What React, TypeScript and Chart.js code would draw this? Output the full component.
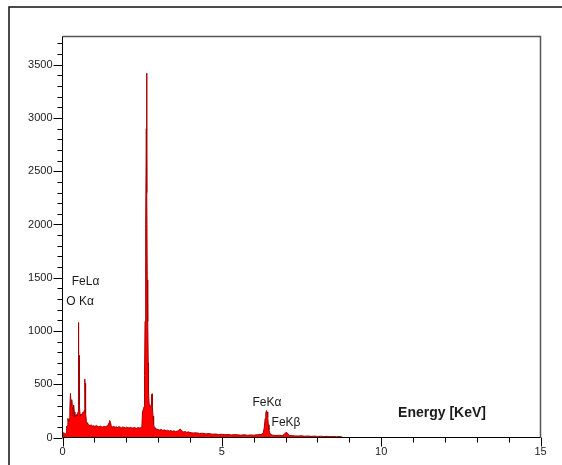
import React, { useEffect, useRef } from "react";
import { Chart, registerables } from "chart.js";

Chart.register(...registerables);

// ---- Spectrum data (energy in keV, counts) ----
const energyLow = [0.0, 0.03, 0.06, 0.09, 0.12, 0.13, 0.15, 0.17, 0.19, 0.21, 0.23, 0.25, 0.27, 0.29, 0.31, 0.33, 0.35, 0.37, 0.39, 0.41, 0.43, 0.45, 0.47, 0.49, 0.5, 0.51, 0.52, 0.53, 0.55, 0.57, 0.59, 0.61, 0.63, 0.65, 0.67, 0.69, 0.7, 0.71, 0.72, 0.73, 0.75, 0.77, 0.79];
const countsLow = [0, 45, 40, 35, 42, 105, 110, 180, 150, 175, 265, 415, 300, 355, 290, 205, 305, 240, 195, 200, 215, 205, 225, 240, 1080, 600, 770, 300, 220, 205, 215, 225, 230, 240, 235, 260, 548, 450, 510, 230, 150, 138, 125];

const energyBg1 = [0.82, 0.86, 0.9, 0.94, 0.98, 1.02, 1.06, 1.1, 1.14, 1.18, 1.22, 1.26, 1.3, 1.34, 1.38, 1.42, 1.46, 1.48, 1.5, 1.53, 1.57, 1.61, 1.65, 1.69, 1.73, 1.77, 1.81, 1.85, 1.89, 1.93, 1.97, 2.01, 2.05, 2.09, 2.13, 2.17, 2.21, 2.25, 2.29, 2.33, 2.37, 2.41, 2.45, 2.49];
const countsBg1 = [120, 112, 118, 108, 110, 104, 112, 106, 100, 108, 102, 98, 104, 100, 106, 112, 138, 160, 145, 110, 98, 104, 96, 100, 94, 102, 97, 92, 99, 95, 90, 97, 93, 89, 96, 91, 88, 94, 90, 86, 93, 89, 92, 95];

const energyMain = [2.51, 2.52, 2.54, 2.56, 2.57, 2.58, 2.59, 2.6, 2.61, 2.62, 2.63, 2.64, 2.65, 2.66, 2.67, 2.68, 2.69, 2.7, 2.72, 2.74, 2.76, 2.78, 2.79, 2.8, 2.81, 2.82, 2.84, 2.86, 2.88, 2.9];
const countsMain = [240, 255, 265, 290, 330, 580, 1090, 1150, 1480, 2000, 2900, 3420, 2300, 1480, 1350, 1090, 700, 420, 310, 290, 280, 300, 400, 330, 410, 290, 200, 120, 95, 85];

const energyBg2 = [2.95, 3.0, 3.05, 3.1, 3.15, 3.2, 3.25, 3.3, 3.35, 3.4, 3.45, 3.5, 3.55, 3.6, 3.65, 3.69, 3.72, 3.76, 3.8, 3.85, 3.9, 3.95, 4.0, 4.1, 4.2, 4.3, 4.4, 4.5, 4.6, 4.7, 4.8, 4.9, 5.0, 5.1, 5.2, 5.3, 5.4, 5.5, 5.6, 5.7, 5.8, 5.9, 6.0, 6.1, 6.2];
const countsBg2 = [80, 74, 70, 76, 66, 72, 62, 68, 60, 65, 58, 63, 55, 60, 66, 80, 72, 58, 52, 56, 48, 53, 46, 42, 44, 38, 40, 34, 37, 31, 33, 28, 30, 26, 29, 24, 27, 25, 22, 26, 21, 24, 22, 25, 28];

const energyFe = [6.26, 6.3, 6.33, 6.36, 6.38, 6.4, 6.42, 6.44, 6.46, 6.48, 6.51, 6.55, 6.6, 6.7, 6.8, 6.9, 6.96, 7.0, 7.04, 7.08, 7.12, 7.2, 7.3, 7.4, 7.5, 7.6, 7.7, 7.8, 7.9, 8.0, 8.1, 8.2, 8.3, 8.4, 8.5, 8.6, 8.7, 8.76, 8.8];
const countsFe = [32, 45, 90, 180, 230, 253, 240, 190, 120, 70, 40, 26, 22, 19, 21, 18, 30, 45, 47, 32, 20, 17, 15, 14, 16, 12, 14, 11, 13, 10, 12, 9, 11, 8, 10, 7, 9, 6, 0];

const energy = [...energyLow, ...energyBg1, ...energyMain, ...energyBg2, ...energyFe];
const counts = [...countsLow, ...countsBg1, ...countsMain, ...countsBg2, ...countsFe];

// ---- Axes ----
const xTicks = [0, 5, 10, 15];
const yTicks = [0, 500, 1000, 1500, 2000, 2500, 3000, 3500];
const X_MAX = 15;
const Y_MAX = 3765;

// ---- Peak annotations (text, energy, counts) ----
const peakLabels = [
  { text: "FeLα", e: 0.29, c: 1460 },
  { text: "O Kα", e: 0.12, c: 1275 },
  { text: "FeKα", e: 5.96, c: 323 },
  { text: "FeKβ", e: 6.56, c: 135 },
];
const axisTitle = { text: "Energy [KeV]", e: 10.53, c: 229 };

const FONT = '"Liberation Sans", Arial, sans-serif';

const framePlugin = {
  id: "frame",
  beforeDraw(chart: any) {
    const ctx = chart.ctx;
    ctx.save();
    ctx.fillStyle = "#ffffff";
    ctx.fillRect(0, 0, chart.width, chart.height);
    ctx.strokeStyle = "#111111";
    ctx.lineWidth = 1.5;
    ctx.beginPath();
    ctx.moveTo(9, chart.height);
    ctx.lineTo(9, 7);
    ctx.lineTo(chart.width, 7);
    ctx.stroke();
    ctx.restore();
  },
};

const axesPlugin = {
  id: "axesDecor",
  afterDatasetsDraw(chart: any) {
    const ctx = chart.ctx;
    const { left, right, top, bottom } = chart.chartArea;
    const xs = chart.scales.x;
    const ys = chart.scales.y;
    ctx.save();
    // plot box (top & right)
    ctx.strokeStyle = "#555555";
    ctx.lineWidth = 1.5;
    ctx.beginPath();
    ctx.moveTo(left, top);
    ctx.lineTo(right, top);
    ctx.lineTo(right, bottom);
    ctx.stroke();
    // axes
    ctx.strokeStyle = "#000000";
    ctx.lineWidth = 1;
    ctx.beginPath();
    ctx.moveTo(left, top);
    ctx.lineTo(left, bottom);
    ctx.lineTo(right, bottom);
    ctx.stroke();
    // y ticks
    ctx.beginPath();
    for (let v = 0; v <= Y_MAX; v += 100) {
      const py = Math.round(ys.getPixelForValue(v)) + 0.5;
      const len = v % 500 === 0 ? 9 : 5;
      ctx.moveTo(left, py);
      ctx.lineTo(left - len, py);
    }
    // x ticks
    for (let v = 0; v <= X_MAX; v += 1) {
      const px = Math.round(xs.getPixelForValue(v)) + 0.5;
      const len = v % 5 === 0 ? 9 : 5;
      ctx.moveTo(px, bottom);
      ctx.lineTo(px, bottom + len);
    }
    ctx.stroke();
    // annotations
    ctx.fillStyle = "#1a1a1a";
    ctx.textAlign = "left";
    ctx.textBaseline = "middle";
    ctx.font = `12px ${FONT}`;
    for (const l of peakLabels) {
      ctx.fillText(l.text, xs.getPixelForValue(l.e), ys.getPixelForValue(l.c));
    }
    ctx.font = `bold 14px ${FONT}`;
    ctx.fillText(axisTitle.text, xs.getPixelForValue(axisTitle.e), ys.getPixelForValue(axisTitle.c));
    ctx.restore();
  },
};

export default function App() {
  const ref = useRef<HTMLCanvasElement>(null);
  useEffect(() => {
    const tickFont = { family: FONT, size: 11 };
    const chart = new Chart(ref.current as HTMLCanvasElement, {
      type: "line",
      data: {
        datasets: [
          {
            data: energy.map((e, i) => ({ x: e, y: counts[i] })),
            fill: "origin",
            backgroundColor: "#ff0000",
            borderColor: "#a30000",
            borderWidth: 1,
            pointRadius: 0,
            tension: 0,
          },
        ],
      },
      options: {
        animation: false,
        responsive: false,
        devicePixelRatio: 1,
        layout: { padding: { top: 36.5, right: 21.5, left: 0, bottom: 0 } },
        plugins: { legend: { display: false }, tooltip: { enabled: false } },
        scales: {
          x: {
            type: "linear",
            min: 0,
            max: X_MAX,
            grid: { display: false, drawTicks: false },
            border: { display: false },
            ticks: {
              padding: 8,
              font: tickFont,
              color: "#222",
              maxRotation: 0,
              autoSkip: false,
              callback: (v: any) => String(v),
            },
            afterBuildTicks: (s: any) => {
              s.ticks = xTicks.map((v) => ({ value: v }));
            },
            afterFit: (s: any) => {
              s.height = 27.5;
            },
          },
          y: {
            type: "linear",
            min: 0,
            max: Y_MAX,
            grid: { display: false, drawTicks: false },
            border: { display: false },
            ticks: {
              padding: 10,
              font: tickFont,
              color: "#222",
              autoSkip: false,
              callback: (v: any) => String(v),
            },
            afterBuildTicks: (s: any) => {
              s.ticks = yTicks.map((v) => ({ value: v }));
            },
            afterFit: (s: any) => {
              s.width = 62.5;
            },
          },
        },
      },
      plugins: [framePlugin, axesPlugin],
    } as any);
    return () => chart.destroy();
  }, []);
  return (
    <div style={{ position: "absolute", left: 0, top: 0, width: 562, height: 465 }}>
      <canvas ref={ref} width={562} height={465} style={{ display: "block", width: 562, height: 465 }} />
    </div>
  );
}
